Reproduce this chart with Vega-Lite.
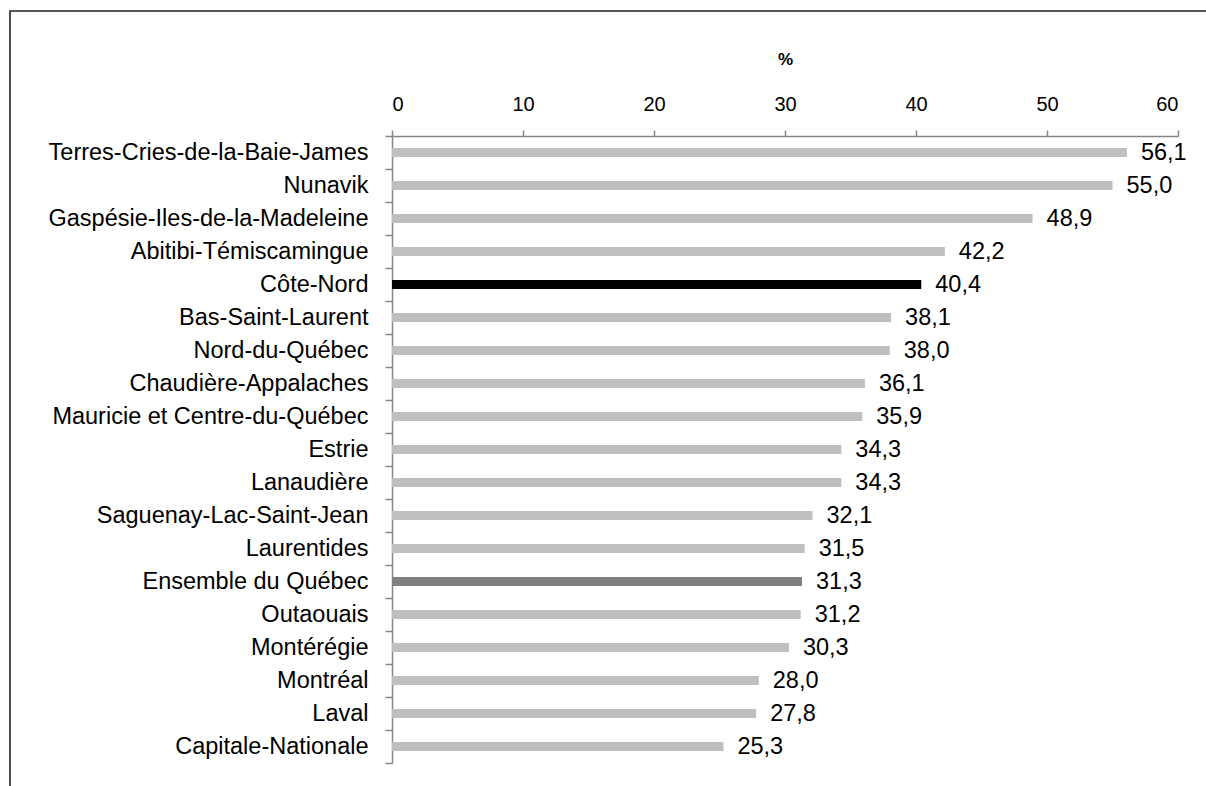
{
  "$schema": "https://vega.github.io/schema/vega-lite/v6.json",
  "autosize": "none",
  "width": 1200,
  "height": 780,
  "padding": {"left": 10, "top": 11, "right": 0, "bottom": 0},
  "background": "white",
  "config": {
    "view": {"stroke": "#222222", "strokeWidth": 1.6},
    "font": "Liberation Sans",
    "locale": {"number": {"decimal": ",", "thousands": " ", "grouping": [3], "currency": ["", " $"]}}
  },
  "data": {
    "values": [
      {"region": "Terres-Cries-de-la-Baie-James", "pct": 56.1},
      {"region": "Nunavik", "pct": 55.0},
      {"region": "Gaspésie-Iles-de-la-Madeleine", "pct": 48.9},
      {"region": "Abitibi-Témiscamingue", "pct": 42.2},
      {"region": "Côte-Nord", "pct": 40.4},
      {"region": "Bas-Saint-Laurent", "pct": 38.1},
      {"region": "Nord-du-Québec", "pct": 38.0},
      {"region": "Chaudière-Appalaches", "pct": 36.1},
      {"region": "Mauricie et Centre-du-Québec", "pct": 35.9},
      {"region": "Estrie", "pct": 34.3},
      {"region": "Lanaudière", "pct": 34.3},
      {"region": "Saguenay-Lac-Saint-Jean", "pct": 32.1},
      {"region": "Laurentides", "pct": 31.5},
      {"region": "Ensemble du Québec", "pct": 31.3},
      {"region": "Outaouais", "pct": 31.2},
      {"region": "Montérégie", "pct": 30.3},
      {"region": "Montréal", "pct": 28.0},
      {"region": "Laval", "pct": 27.8},
      {"region": "Capitale-Nationale", "pct": 25.3}
    ]
  },
  "encoding": {
    "y": {
      "field": "region",
      "type": "nominal",
      "sort": null,
      "scale": {"range": [125, 752], "paddingInner": 0, "paddingOuter": 0},
      "axis": {
        "orient": "left",
        "offset": -382,
        "title": null,
        "tickBand": "extent",
        "domainColor": "#868686",
        "domainWidth": 1.5,
        "tickColor": "#868686",
        "tickWidth": 1.5,
        "tickSize": 7,
        "labelPadding": 17,
        "labelFontSize": 23.5,
        "labelLimit": 0,
        "labelColor": "#000000",
        "labelFont": "Liberation Sans"
      }
    },
    "x": {
      "field": "pct",
      "type": "quantitative",
      "scale": {"domain": [0, 60], "range": [382, 1168], "nice": false, "zero": true},
      "axis": {
        "orient": "top",
        "offset": -125,
        "values": [0, 10, 20, 30, 40, 50, 60],
        "format": "d",
        "grid": false,
        "title": "%",
        "titleFontSize": 17,
        "titleFontWeight": "bold",
        "titleColor": "#000000",
        "titlePadding": 26,
        "titleFont": "Liberation Sans",
        "domainColor": "#868686",
        "domainWidth": 1.5,
        "tickColor": "#868686",
        "tickWidth": 1.5,
        "tickSize": 6,
        "labelPadding": 16,
        "labelFontSize": 20,
        "labelColor": "#000000",
        "labelFont": "Liberation Sans"
      }
    }
  },
  "layer": [
    {
      "mark": {"type": "bar", "size": 9},
      "encoding": {
        "color": {
          "condition": [
            {"test": "datum.region === 'Côte-Nord'", "value": "#000000"},
            {"test": "datum.region === 'Ensemble du Québec'", "value": "#808080"}
          ],
          "value": "#BFBFBF"
        }
      }
    },
    {
      "mark": {"type": "text", "align": "left", "baseline": "middle", "dx": 14, "fontSize": 23.5, "font": "Liberation Sans", "color": "#000000"},
      "encoding": {
        "text": {"field": "pct", "type": "quantitative", "format": ".1f"}
      }
    }
  ]
}
